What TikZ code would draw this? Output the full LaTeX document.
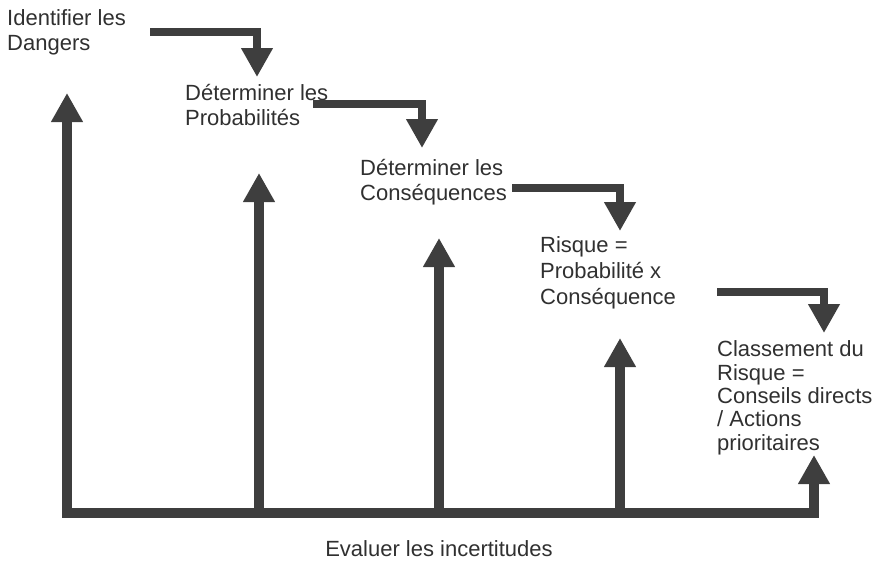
\documentclass[tikz,border=0pt]{standalone}
\usepackage{fontspec}
\setmainfont{Liberation Sans}
\usetikzlibrary{arrows.meta}
\definecolor{trait}{HTML}{3E3E3E}
\definecolor{texte}{HTML}{303030}
\begin{document}
\begin{tikzpicture}[x=1pt,y=-1pt]

	\tikzstyle{etape} = [anchor=base west,align=left,inner sep=0pt,text=texte,font=\fontsize{22}{25}\selectfont]
	\tikzstyle{flecha} = [-{Triangle[width=30pt,length=29pt]},line width=10pt,draw=trait]
	\tikzstyle{coude} = [-{Triangle[width=30pt,length=29pt]},line width=8pt,draw=trait]
	\tikzstyle{doble} = [{Triangle[width=30pt,length=29pt]}-{Triangle[width=30pt,length=29pt]},line width=10pt,draw=trait]

	\useasboundingbox (0,0) rectangle (876,563);

	% ancrage sur la ligne de base de la derniere ligne
	\node[etape] (dangers)	at (7,50)	{Identifier les\\Dangers};
	\node[etape] (proba)	at (185,125)	{D\'eterminer les\\Probabilit\'es};
	\node[etape] (conseq)	at (360,200)	{D\'eterminer les\\Cons\'equences};
	\node[etape,font=\fontsize{22}{26}\selectfont] (risque) at (540,304) {Risque =\\Probabilit\'e x\\Cons\'equence};
	\node[etape,font=\fontsize{22}{23.3}\selectfont] (classe) at (717,450) {Classement du\\Risque =\\Conseils directs\\/ Actions\\prioritaires};
	\node[etape,anchor=base] (incert) at (439,556) {Evaluer les incertitudes};

	% coudes entre les etapes
	\coordinate (d1) at (150,32);	\coordinate (f1) at (257,77);
	\coordinate (d2) at (313,104);	\coordinate (f2) at (422,148);
	\coordinate (d3) at (512,188);	\coordinate (f3) at (620,231);
	\coordinate (d4) at (717,292);	\coordinate (f4) at (824,333);

	% base et pointes
	\coordinate (b1) at (67,513);	\coordinate (h1) at (67,93);
	\coordinate (b2) at (259,513);	\coordinate (h2) at (259,173);
	\coordinate (b3) at (439,513);	\coordinate (h3) at (439,238);
	\coordinate (b4) at (620,513);	\coordinate (h4) at (620,338);
	\coordinate (b5) at (814,513);	\coordinate (h5) at (814,455);

	\draw[coude] (d1) -| (f1);
	\draw[coude] (d2) -| (f2);
	\draw[coude] (d3) -| (f3);
	\draw[coude] (d4) -| (f4);

	\draw[doble] (h1) -- (b1) -- (b5) -- (h5);
	\draw[flecha] (b2) -- (h2);
	\draw[flecha] (b3) -- (h3);
	\draw[flecha] (b4) -- (h4);

\end{tikzpicture}
\end{document}
